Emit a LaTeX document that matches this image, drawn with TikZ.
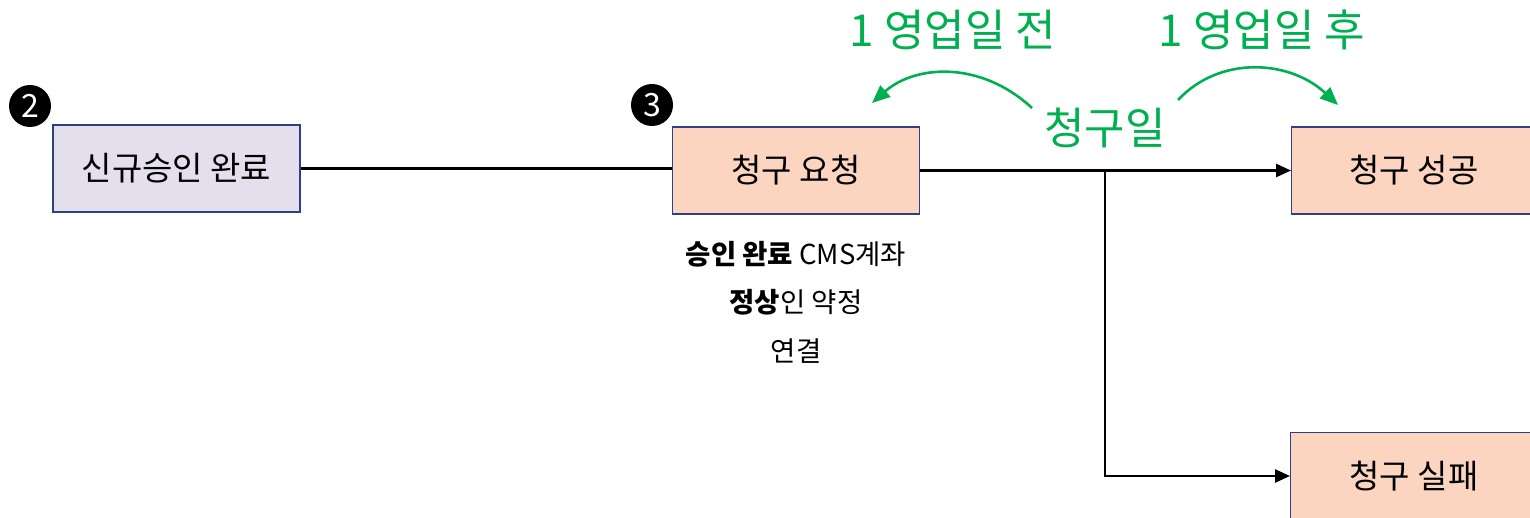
\documentclass[tikz,border=0pt]{standalone}
\usepackage{fontspec}
\setmainfont{Noto Sans CJK KR}
\usetikzlibrary{arrows.meta}
\definecolor{navy}{HTML}{2F3F7F}
\definecolor{lav}{HTML}{E4DFEC}
\definecolor{peach}{HTML}{FCD5C1}
\definecolor{grn}{HTML}{00B050}
\tikzset{
  box/.style={draw=navy,line width=1.2pt,minimum width=247pt,minimum height=87pt,inner sep=0pt},
  boxtxt/.style={font=\fontsize{33}{38}\selectfont},
  conn/.style={line width=2.6pt,black},
  tip/.style={-{Triangle[length=15pt,width=13pt]}},
  garr/.style={draw=grn,line width=2.6pt,-{Triangle[length=18pt,width=15pt]}},
  num/.style={circle,fill=black,text=white,minimum size=42pt,inner sep=0pt,font=\fontsize{32}{34}\selectfont},
  gtxt/.style={text=grn,font=\fontsize{44}{50}\selectfont},
  note/.style={font=\fontsize{27.5}{32}\selectfont}
}
\begin{document}
\begin{tikzpicture}[x=1pt,y=-1pt]
\useasboundingbox (0,0) rectangle (1530,518);
\node[box,fill=lav,boxtxt] (a) at (176.5,168.5) {신규승인 완료};
\node[box,fill=peach,boxtxt] (b) at (796,170.5) {청구 요청};
\node[box,fill=peach,anchor=west] (c) at (1291,170.5) {};
\node[boxtxt] (ct) at (1414,170.5) {청구 성공};
\node[box,fill=peach,anchor=north west,minimum height=120pt] (d) at (1290,432) {};
\node[boxtxt] (dt) at (1414,476) {청구 실패};
\node[num] (n2) at (30,106) {2};
\node[num] (n3) at (652,105) {3};
\draw[conn] (a.east) -- (a.east -| b.west);
\draw[conn,tip] (b.east) -- (c.west);
\coordinate (br) at (1105,170.5);
\coordinate (bd) at (1105,476);
\draw[conn,tip] (br) -- (bd) -- (d.west |- bd);
\node[note] (l1) at (796,254) {\textbf{승인 완료} CMS계좌};
\node[note] (l2) at (796,302) {\textbf{정상}인 약정};
\node[note] (l3) at (796,351) {연결};
\node[gtxt] (g1) at (953,30) {1 영업일 전};
\node[gtxt] (g2) at (1262,30) {1 영업일 후};
\node[gtxt] (g3) at (1105,128) {청구일};
\coordinate (s1) at (1032,108);
\coordinate (e1) at (872,103);
\coordinate (s2) at (1178,100);
\coordinate (e2) at (1338,105);
\draw[garr] (s1) .. controls (980,60) and (915,65) .. (e1);
\draw[garr] (s2) .. controls (1220,55) and (1290,60) .. (e2);
\end{tikzpicture}
\end{document}
